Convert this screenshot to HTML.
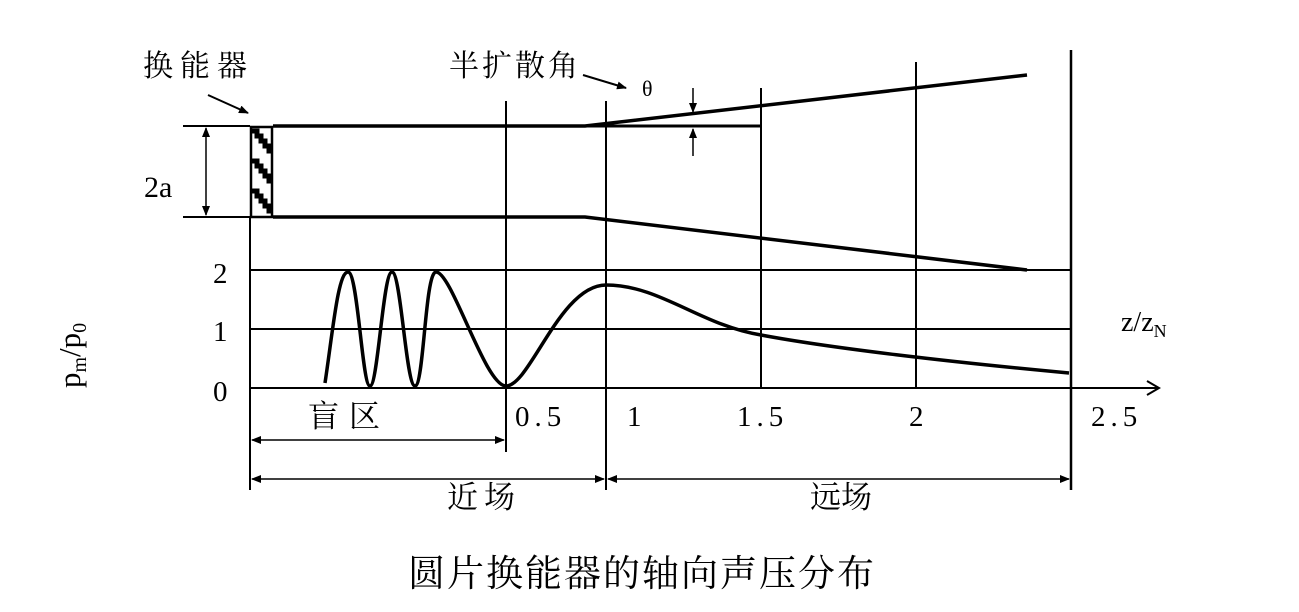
<!DOCTYPE html>
<html><head><meta charset="utf-8"><style>
html,body{margin:0;padding:0;background:#fff;}
svg{display:block;}
.c{font-family:"Liberation Serif","Noto Serif CJK SC",serif;fill:#000;}
.n{font-family:"Liberation Serif",serif;fill:#000;}
</style></head><body>
<svg width="1299" height="612" viewBox="0 0 1299 612" xmlns="http://www.w3.org/2000/svg">
<defs>
<marker id="a" markerWidth="10" markerHeight="8" refX="9" refY="4" orient="auto-start-reverse" markerUnits="userSpaceOnUse"><path d="M0,0 L10,4 L0,8 z" fill="#000"/></marker>
</defs>
<g stroke="#000" fill="none">
<line x1="250" y1="217" x2="250" y2="490" stroke-width="2"/>
<line x1="506" y1="101" x2="506" y2="452" stroke-width="2"/>
<line x1="606" y1="101" x2="606" y2="490" stroke-width="2"/>
<line x1="761" y1="88" x2="761" y2="388" stroke-width="2"/>
<line x1="916" y1="62" x2="916" y2="388" stroke-width="2"/>
<line x1="1071" y1="50" x2="1071" y2="490" stroke-width="2.5"/>
<line x1="250" y1="270" x2="1071" y2="270" stroke-width="2"/>
<line x1="250" y1="329" x2="1071" y2="329" stroke-width="2"/>
<line x1="250" y1="388" x2="1158" y2="388" stroke-width="2"/>
<polyline points="1147,381 1159,388 1147,395" stroke-width="2"/>
<line x1="183" y1="126" x2="250" y2="126" stroke-width="2"/>
<line x1="183" y1="217" x2="250" y2="217" stroke-width="2"/>
<polyline points="273,126 585,126 1027,75" stroke-width="3.5"/>
<polyline points="273,217 585,217 1027,270" stroke-width="3.5"/>
<line x1="585" y1="126" x2="761" y2="126" stroke-width="3"/>
<line x1="206" y1="128" x2="206" y2="215" stroke-width="1.5" marker-start="url(#a)" marker-end="url(#a)"/>
<line x1="693" y1="88" x2="693" y2="112" stroke-width="1.5" marker-end="url(#a)"/>
<line x1="693" y1="156" x2="693" y2="129" stroke-width="1.5" marker-end="url(#a)"/>
<line x1="208" y1="95" x2="248" y2="113" stroke-width="2" marker-end="url(#a)"/>
<line x1="583" y1="75" x2="626" y2="88" stroke-width="2" marker-end="url(#a)"/>
<rect x="251" y="127" width="21" height="90" stroke-width="2.5"/>
<path d="M252,131 l5,0 l0,5 l4,0 l0,5 l4,0 l0,5 l4,0 l0,5 l3,0 M252,161 l5,0 l0,5 l4,0 l0,5 l4,0 l0,5 l4,0 l0,5 l3,0 M252,191 l5,0 l0,5 l4,0 l0,5 l4,0 l0,5 l4,0 l0,5 l3,0" stroke-width="5"/>
<path d="M325,383 C333,330 338,272 348,272 C358,272 362,386 370,386 C378,386 383,272 392,272 C401,272 406,386 415,386 C424,386 425,272 436,272 C452,272 485,386 506,386 C530,386 560,285 606,285 C660,285 700,325 761,335 C830,348 950,362 1069,373" stroke-width="3.5"/>
<line x1="252" y1="440" x2="504" y2="440" stroke-width="1.5" marker-start="url(#a)" marker-end="url(#a)"/>
<line x1="252" y1="479" x2="604" y2="479" stroke-width="1.5" marker-start="url(#a)" marker-end="url(#a)"/>
<line x1="608" y1="479" x2="1069" y2="479" stroke-width="1.5" marker-start="url(#a)" marker-end="url(#a)"/>
</g>
<g class="c">
<text x="143" y="76" font-size="30" letter-spacing="7">换能器</text>
<text x="449" y="76" font-size="30" letter-spacing="3">半扩散角</text>
<text x="308" y="427" font-size="31" letter-spacing="10">盲区</text>
<text x="447" y="508" font-size="31" letter-spacing="6">近场</text>
<text x="810" y="508" font-size="31">远场</text>
<text x="408" y="586" font-size="37" letter-spacing="2">圆片换能器的轴向声压分布</text>
</g>
<g class="n">
<text x="642" y="96" font-size="22">θ</text>
<text x="144" y="197" font-size="30">2a</text>
<text x="213" y="283" font-size="29">2</text>
<text x="213" y="341" font-size="29">1</text>
<text x="213" y="401" font-size="29">0</text>
<text x="515" y="426" font-size="29" letter-spacing="5">0.5</text>
<text x="627" y="426" font-size="29">1</text>
<text x="737" y="426" font-size="29" letter-spacing="5">1.5</text>
<text x="909" y="426" font-size="29">2</text>
<text x="1091" y="426" font-size="29" letter-spacing="5">2.5</text>
<text x="1121" y="331" font-size="28">z/z<tspan font-size="18" dy="6">N</tspan></text>
<text transform="translate(80,388) rotate(-90)" font-size="31">p<tspan font-size="20" dy="6">m</tspan><tspan dy="-6">/p</tspan><tspan font-size="20" dy="6">0</tspan></text>
</g>
</svg>
</body></html>
